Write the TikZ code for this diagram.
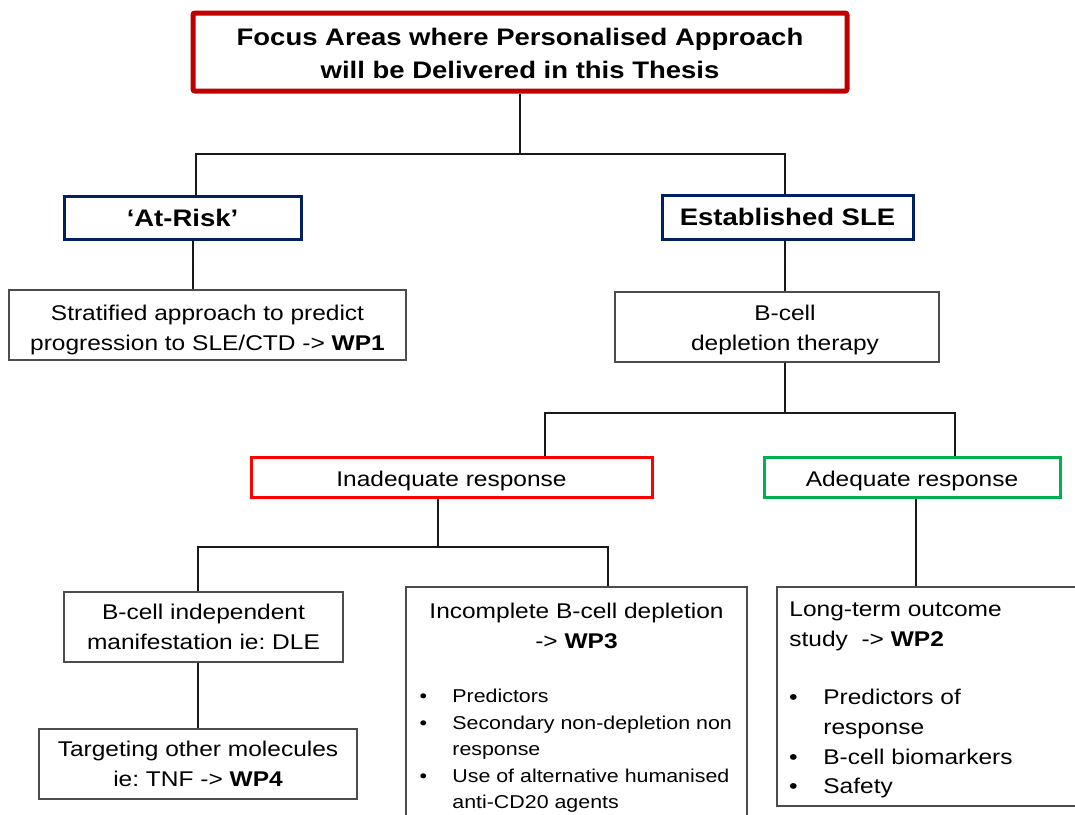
\documentclass[tikz,border=0pt]{standalone}
\usepackage{fontspec}
\setmainfont[FakeStretch=1.15]{Liberation Sans}
\frenchspacing
\definecolor{titlered}{RGB}{192,0,0}
\definecolor{navybox}{RGB}{0,32,96}
\definecolor{redbox}{RGB}{255,0,0}
\definecolor{greenbox}{RGB}{0,176,80}
\newcommand\bodysize{\fontsize{10.65pt}{15pt}\selectfont}
\newcommand\headsize{\fontsize{11.95pt}{16.5pt}\selectfont\bfseries}
\newcommand\listsize{\fontsize{9.3pt}{13.25pt}\selectfont}
\newcommand\boxtext[2][1.5pt]{\raisebox{-#1}[\height][\depth]{\begin{tabular}{@{}c@{}}#2\end{tabular}}}
\begin{document}
\begin{tikzpicture}[x=0.5pt,y=-0.5pt,
   box/.style={draw=black!70,line width=0.75pt,inner sep=0pt,align=center,font=\bodysize},
   keybox/.style={box,line width=1.5pt,font=\headsize},
   link/.style={draw=black!90,line width=1pt},
   txt/.style={inner sep=0pt,font=\bodysize}]
   \useasboundingbox (0,0) rectangle (1075,814);
   \node (title) [keybox,draw=titlered,line width=2.5pt,rounded corners=1pt,minimum width=327pt,minimum height=39pt] at (520,52) {\boxtext[1.75pt]{Focus Areas where Personalised Approach\\will be Delivered in this Thesis}};
   \node (atrisk) [keybox,draw=navybox,minimum width=118.5pt,minimum height=21.5pt] at (182.5,217.5) {\boxtext[1pt]{‘At-Risk’}};
   \node (estab) [keybox,draw=navybox,minimum width=125.5pt,minimum height=22pt] at (787.5,217) {\boxtext[1pt]{Established SLE}};
   \node (strat) [box,minimum width=198.5pt,minimum height=35pt] at (207.5,325) {\boxtext[2.25pt]{Stratified approach to predict\\progression to SLE/CTD -> \textbf{WP1}}};
   \node (bcell) [box,minimum width=162pt,minimum height=35pt] at (777,327) {\raisebox{-1.25pt}[\height][\depth]{\begin{tabular}{@{\hspace{8pt}}c@{}}B-cell\\depletion therapy\end{tabular}}};
   \node (inadeq) [box,draw=redbox,line width=1.5pt,minimum width=200.5pt,minimum height=20pt] at (451.5,477) {\boxtext{Inadequate response}};
   \node (adeq) [box,draw=greenbox,line width=1.5pt,minimum width=148pt,minimum height=20pt] at (912,477) {\boxtext{Adequate response}};
   \node (bindep) [box,minimum width=139.5pt,minimum height=35pt] at (203.5,627) {\boxtext[0.75pt]{B-cell independent\\manifestation ie: DLE}};
   \node (target) [box,minimum width=159pt,minimum height=35pt] at (198,764) {\boxtext[0.75pt]{Targeting other molecules\\ie: TNF -> \textbf{WP4}}};
   \node (incomp) [box,minimum width=170.5pt,minimum height=126.5pt] at (576.5,713.5) {};
   \node (incomphead) [txt,anchor=base] at (576.5,618) {\begin{tabular}[t]{@{}c@{}}Incomplete B-cell depletion\\-> \textbf{WP3}\end{tabular}};
   \node (incomplist) [txt,font=\listsize,anchor=base west] at (419.3,702.7) {\begin{tabular}[t]{@{}l@{\hspace{12.6pt}}l@{}}
      \textbullet & Predictors\\
      \textbullet & Secondary non-depletion non\\
                  & response\\
      \textbullet & Use of alternative humanised\\
                  & anti-CD20 agents
      \end{tabular}};
   \node (longterm) [box,minimum width=154pt,minimum height=109.5pt] at (931,696.5) {};
   \node (longhead) [txt,anchor=base west] at (789,616.2) {\begin{tabular}[t]{@{}l@{}}Long-term outcome\\study\ \ -> \textbf{WP2}\end{tabular}};
   \node (longlist) [txt,font=\fontsize{10.65pt}{14.85pt}\selectfont,anchor=base west] at (788.7,704.6) {\begin{tabular}[t]{@{}l@{\hspace{12.85pt}}l@{}}
      \textbullet & Predictors of\\
                  & response\\
      \textbullet & B-cell biomarkers\\
      \textbullet & Safety
      \end{tabular}};
   \draw [link] (title.south) -- ++(0,60) coordinate (topsplit) -| ([xshift=6.75pt]atrisk.north);
   \draw [link] (topsplit) -| ([xshift=-1.25pt]estab.north);
   \draw [link] ([xshift=5.25pt]atrisk.south) -- ([xshift=5.25pt]atrisk.south |- strat.north);
   \draw [link] ([xshift=-1.25pt]estab.south) -- ([xshift=-1.25pt]estab.south |- bcell.north);
   \draw [link] ([xshift=4pt]bcell.south) -- ++(0,50) coordinate (midsplit) -| ([xshift=46.75pt]inadeq.north);
   \draw [link] (midsplit) -| ([xshift=21.5pt]adeq.north);
   \draw [link] ([xshift=-6.75pt]inadeq.south) -- ++(0,48) coordinate (lowsplit) -| ([xshift=-2.75pt]bindep.north);
   \draw [link] (lowsplit) -| ([xshift=15.75pt]incomp.north);
   \draw [link] ([xshift=-2.75pt]bindep.south) -- ([xshift=-2.75pt]bindep.south |- target.north);
   \draw [link] ([xshift=2pt]adeq.south) -- ([xshift=2pt]adeq.south |- longterm.north);
\end{tikzpicture}
\end{document}
